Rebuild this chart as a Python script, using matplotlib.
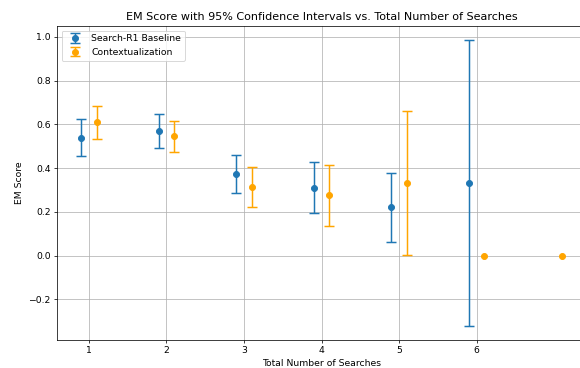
import numpy as np
import matplotlib.pyplot as plt

# number of searches
searches_base = [1, 2, 3, 4, 5, 6]
searches_ctx = [1, 2, 3, 4, 5, 6, 7]

# EM score and 95% CI bounds (no interval for the last two contextualization points)
base_em = [0.54, 0.57, 0.372, 0.31, 0.222, 0.333]
base_lo = [0.458, 0.493, 0.285, 0.195, 0.062, -0.32]
base_hi = [0.623, 0.65, 0.46, 0.427, 0.38, 0.985]

ctx_em = [0.61, 0.547, 0.313, 0.276, 0.333, 0.0, 0.0]
ctx_lo = [0.535, 0.475, 0.222, 0.135, 0.005, np.nan, np.nan]
ctx_hi = [0.685, 0.618, 0.405, 0.415, 0.66, np.nan, np.nan]

offset = 0.1

dpi = 200 / 3
fig = plt.figure(figsize=(580 / dpi, 368 / dpi), dpi=dpi)
ax = fig.add_axes([57 / 580, 1 - 340 / 368, 529 / 580, 314 / 368])

xb = np.array(searches_base) - offset
xc = np.array(searches_ctx) + offset
b = np.array(base_em)
c = np.array(ctx_em)

ax.errorbar(xb, b, yerr=[b - np.array(base_lo), np.array(base_hi) - b],
            fmt='o', color='tab:blue', capsize=5, markersize=6.5,
            elinewidth=1.6, capthick=1.6, label='Search-R1 Baseline')
ax.errorbar(xc, c, yerr=[c - np.array(ctx_lo), np.array(ctx_hi) - c],
            fmt='o', color='orange', capsize=5, markersize=6.5,
            elinewidth=1.6, capthick=1.6, label='Contextualization')

ax.set_xticks(searches_base)
ax.set_xlim(0.59, 7.41)
ax.set_title('EM Score with 95% Confidence Intervals vs. Total Number of Searches')
ax.set_xlabel('Total Number of Searches')
ax.set_ylabel('EM Score')
ax.legend(loc='upper left')
ax.grid(True)

fig.savefig('out.png', dpi=dpi)
